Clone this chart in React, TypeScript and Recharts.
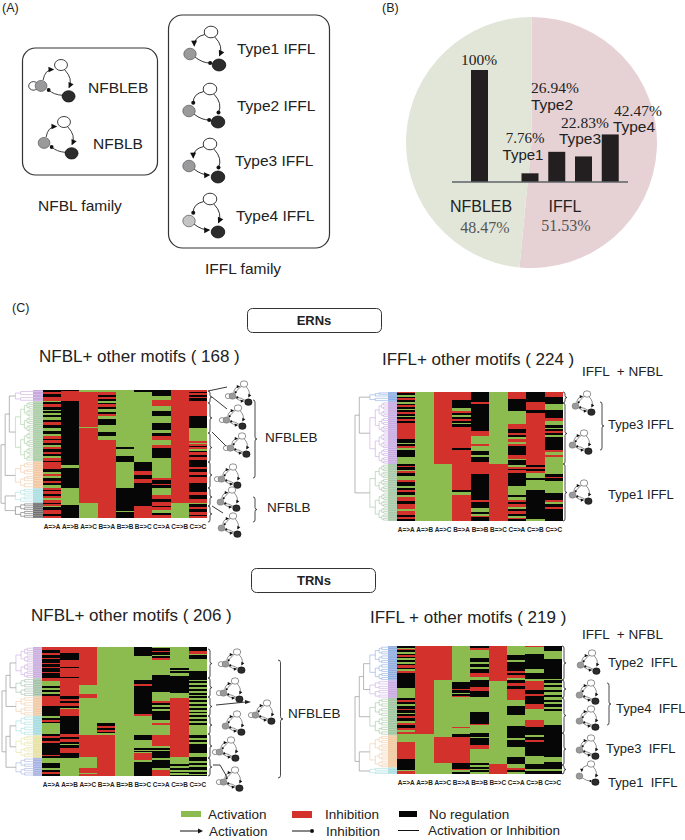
import { Bar, BarChart, Cell, Pie, PieChart, XAxis, YAxis } from "recharts";

// panel B
const pieNames = ["IFFL", "NFBLEB"];
const pieValues = [51.53, 48.47];
const pieColors = ["#e6d2d4", "#e2e6d9"];
const nfblNames = ["NFBLEB"];
const nfblValues = [100];
const ifflNames = ["Type1", "Type2", "Type3", "Type4"];
const ifflValues = [7.76, 26.94, 22.83, 42.47];

// panel C, run lists: state letter + the row where that run ends
const regulations = ["A=>A", "A=>B", "A=>C", "B=>A", "B=>B", "B=>C", "C=>A", "C=>B", "C=>C"];
const stateColors: Record<string, string> = { G: "#8cbc4f", R: "#d3322c", K: "#060606" };

const ernNfbl = [
  "K3 R5 K9 R14 G16 K19 R22 K26 G28 K30 G33 K36 G39 K42 R46 K50 G54 K58 G61 R64 K66 R70 K72 G75 R78 K82 R84 K86 G89 R93 K95 R104 K108 G110 R113 G116 K119 R122 K125 G128 R131 K133 R137 K139 R142 G145 R148 K150 R152 G154 K158 R163 K165 R168",
  "K1 R15 K98 G103 K129 G151 K168",
  "G2 R48 G50 R148 G168",
  "G2 R7 K9 R12 K14 G17 K19 R22 K25 G29 K31 R34 G38 K46 G55 K61 G66 R168",
  "G75 K78 G86 K94 G129 K159 G160 K168",
  "K3 G95 K106 R111 K117 R122 K129 K152 R168",
  "K8 G13 R21 G27 K34 G43 K52 G57 K61 R66 G72 R76 K89 G115 R118 K123 R125 K129 G138 R143 K147 R152 K154 R158 G161 K164 R168",
  "R148 G168",
  "R2 K4 R7 K9 R11 K14 R34 K50 G67 R69 G71 R73 K75 R77 G80 K82 R85 K88 R92 K101 R104 K108 R112 K114 R122 K134 R138 K143 R148 G150 K153 R156 K160 R164 K166 R168",
];
const ernIffl = [
  "R2 K5 G8 K11 R14 K17 G20 K23 R26 K29 G32 K35 R38 K41 G44 K47 R50 K53 R81 K88 G91 K94 R98 G101 K113 G125 K128 R131 K135 G138 R141 K145 G152 R156 K163 G167 K170 R174 K178 G182 R190 K195 R204 G207 R213 K217 R221 K224",
  "G224",
  "R125 G224",
  "R14 K27 G33 R36 K40 G43 K47 R50 K53 G56 K60 R98 K101 R170 K174 G178 R186 R224",
  "K18 R21 K68 R77 G90 R94 G102 K110 G112 K121 R143 K188 R191 K201 G208 K212 G215 R217 K224",
  "G125 R224",
  "R13 K33 G56 R64 K71 R75 K78 G82 R87 G91 R94 K109 R116 G118 K127 G130 R133 K136 R140 K164 G178 K183 G187 R191 K195 R199 G203 K207 R211 K216 G219 R221 K224",
  "K17 R32 K36 R127 K131 R133 K138 R140 G149 K152 G170 K220 G224",
  "R9 K21 G31 K45 R50 G58 K62 G65 K68 R71 K75 G79 K87 K101 R105 G110 R113 G125 G143 K147 R150 K154 G158 G175 K187 R191 G195 K199 R203 K224",
];
const trnNfbl = [
  "R4 K10 R12 K17 R19 K25 R27 K32 R34 K40 R42 K50 R55 G63 K66 G69 K72 G75 K79 R95 K110 G113 K116 R119 K122 G125 G139 K142 R146 K150 R154 K162 K172 R174 K178 G186 K194 G197 K200 R203 K206",
  "R10 K20 R32 K34 R48 K50 R78 K83 R87 K90 R94 K97 G99 R110 K139 R143 K147 R151 K155 G157 K162 R170 K178 G186 G206",
  "R60 G75 R81 G141 R176 G193 R201 G203 R206",
  "G121 K126 R129 K132 R135 K138 G140 R206",
  "G206",
  "K15 G53 K59 R62 K107 R110 G141 K149 G162 K164 G166 K168 G170 R181 G183 K206",
  "G2 K6 R8 K12 G14 K18 R20 G44 K72 G87 R90 K93 G96 K99 G102 K117 G122 R125 G141 R158 G161 K164 G166 K178 G180 K193 G196 R206",
  "G34 K36 G38 K42 G46 K74 G81 R176 G187 K190 G193 K196 G199 K202 G204 K206",
  "K7 R11 G12 K19 G38 K52 G55 K58 G61 K64 G67 K70 G73 K76 G79 K82 G85 K88 G91 K94 G97 K100 G103 K106 G109 K112 G115 K118 G121 K124 G127 G141 K145 G148 K152 G155 K159 K170 G175 K182 G185 K189 G192 K197 G200 K203 G204 K206",
];
const trnIffl = [
  "K3 G5 R7 K10 G13 K16 R18 K21 G24 K28 G30 K33 R37 K39 G42 R46 K72 G89 K93 R96 K100 G103 K107 R110 K114 G117 K120 R124 K128 G132 R136 K140 R143 G147 R151 G165 R193 K212 G214 R219",
  "R151 G219",
  "R59 G155 R201 G219",
  "G61 K73 R76 K80 G82 K86 R87 G138 R141 G150 K155 R201 K210 R212 G215 K219",
  "K4 R6 G21 K27 G30 K36 G40 K47 R53 G58 K71 R77 K88 G113 K133 R136 G149 K155 G158 K170 R176 G201 K204 G207 K210 G213 K216 G219",
  "R60 G202 R219",
  "G16 K24 G28 K43 R46 K50 R54 G58 K63 R68 K74 R85 R93 G103 K118 G137 K158 G161 K172 G190 K202 G208 R213 K216 G219",
  "R2 G13 K39 G47 K56 G60 R76 K82 R86 K100 R108 G127 R138 K153 G155 K160 R165 K188 G202 K211 G214 K219",
  "K9 G23 K56 G59 K63 G67 K71 G75 K79 G84 K88 G92 K96 G100 K104 G108 K112 G136 K190 G199 K211 G214 K219",
];

const ernNfblClusters = [["#c9a9de", 15], ["#a7cba3", 94], ["#f2c7a1", 129], ["#a8dde0", 148], ["#6d6d6d", 168]] as const;
const ernIfflClusters = [["#8bace2", 17], ["#c6a8e0", 125], ["#a2c4a2", 224]] as const;
const trnNfblClusters = [["#c9aade", 50], ["#a3c0a8", 79], ["#f0c9a4", 110], ["#a5dde0", 141], ["#e6e0a0", 177], ["#a5b1e3", 206]] as const;
const trnIfflClusters = [["#8facdf", 59], ["#c9a9e2", 89], ["#9fc49e", 153], ["#f0c79d", 208], ["#a5dde0", 219]] as const;

function Heatmap({ left, top, width, height, rows, columns }: any) {
  const runs = columns.map((c: string) => {
    let prev = 0;
    return c.split(" ").map((t) => {
      const end = Number(t.slice(1));
      const run = { state: t[0], len: end - prev };
      prev = end;
      return run;
    });
  });
  const maxRuns = Math.max(...runs.map((r: any[]) => r.length));
  const data = regulations.map((name, i) => {
    const row: any = { name };
    for (let j = 0; j < maxRuns; j++) row[`s${j}`] = runs[i][j] ? runs[i][j].len : 0;
    return row;
  });
  // recharts floors the automatic bar width, which leaves white seams between columns
  const colWidth = width / regulations.length - 0.001;
  return (
    <div style={{ position: "absolute", left, top }}>
      <BarChart width={width} height={height + 13} data={data} margin={{ top: 0, right: 0, bottom: 0, left: 0 }} barCategoryGap="0%" barGap={0}>
        <XAxis
          dataKey="name"
          interval={0}
          height={13}
          axisLine={false}
          tickLine={false}
          tickMargin={0}
          tick={{ fontSize: 6.4, fontWeight: 700, fill: "#222", fontFamily: "Liberation Sans" }}
        />
        <YAxis hide reversed type="number" domain={[0, rows]} />
        {Array.from({ length: maxRuns }, (_, j) => (
          <Bar key={j} dataKey={`s${j}`} stackId="h" barSize={colWidth} isAnimationActive={false} shapeRendering="crispEdges">
            {runs.map((r: any[], i: number) => (
              <Cell key={i} fill={r[j] ? stateColors[r[j].state] : "none"} />
            ))}
          </Bar>
        ))}
      </BarChart>
    </div>
  );
}

// tree drawn beside a heatmap, joined into the coloured strip
function Dendrogram({ x0, x1, strip, top, height, rows, clusters }: any) {
  const sy = height / rows;
  const lines: any[] = [];
  const span = strip - x0;
  const inner = (lo: number, hi: number, x: number, color: string): number => {
    if (hi - lo < 5) {
      const y = ((lo + hi) / 2) * sy + top;
      lines.push(<path key={lines.length} d={`M${x} ${y}H${strip}`} stroke={color} fill="none" strokeWidth={0.6} />);
      lines.push(<path key={lines.length} d={`M${strip} ${y}H${x1}`} stroke="#fff" strokeOpacity={0.45} fill="none" strokeWidth={0.6} />);
      return y;
    }
    const mid = Math.round((lo + hi) / 2);
    const step = (strip - x) * 0.3;
    const a = inner(lo, mid, x + step, color);
    const b = inner(mid, hi, x + step, color);
    lines.push(<path key={lines.length} d={`M${x + step} ${a}H${x}V${b}H${x + step}`} stroke={color} fill="none" strokeWidth={0.6} />);
    return (a + b) / 2;
  };
  const outer = (from: number, to: number, depth: number): [number, number] => {
    if (to - from === 1) {
      const lo = from === 0 ? 0 : clusters[from - 1][1];
      const x = x0 + span * 0.45;
      return [inner(lo, clusters[from][1], x, clusters[from][0]), x];
    }
    const mid = Math.ceil((from + to) / 2);
    const [a, ax] = outer(from, mid, depth + 1);
    const [b, bx] = outer(mid, to, depth + 1);
    const x = x0 + span * 0.13 * depth;
    lines.push(<path key={lines.length} d={`M${ax} ${a}H${x}V${b}H${bx}`} stroke="#9a9a9a" fill="none" strokeWidth={0.7} />);
    return [(a + b) / 2, x];
  };
  outer(0, clusters.length, 0);
  return (
    <g>
      {clusters.map((c: any, i: number) => {
        const lo = i === 0 ? 0 : clusters[i - 1][1];
        return <rect key={i} x={strip} y={top + lo * sy} width={x1 - strip} height={(c[1] - lo) * sy} fill={c[0]} />;
      })}
      {lines}
    </g>
  );
}

const nodes: Record<string, [number, number]> = { A: [0, 0], B: [-21, 22], C: [8, 33] };

function Edge({ from, to, kind, bend }: any) {
  const [x1, y1] = nodes[from];
  const [x2, y2] = nodes[to];
  const dx = x2 - x1;
  const dy = y2 - y1;
  const len = Math.hypot(dx, dy);
  const ux = dx / len;
  const uy = dy / len;
  const cx = (x1 + x2) / 2 - uy * bend;
  const cy = (y1 + y2) / 2 + ux * bend;
  // end points stop short of the node rims
  const sx = x1 + ux * 6 - uy * bend * 0.3;
  const sy = y1 + uy * 6 + ux * bend * 0.3;
  const ex = x2 - ux * 9 - uy * bend * 0.3;
  const ey = y2 - uy * 9 + ux * bend * 0.3;
  const angle = (Math.atan2(ey - cy, ex - cx) * 180) / Math.PI;
  return (
    <g>
      <path d={`M${sx} ${sy}Q${cx} ${cy} ${ex} ${ey}`} fill="none" stroke="#1c1c1c" strokeWidth={0.9} />
      {kind === "a" ? (
        <path d="M-5 -3L1 0L-5 3Z" transform={`translate(${ex} ${ey}) rotate(${angle})`} fill="#111" />
      ) : (
        <circle cx={ex} cy={ey} r={2} fill="#111" />
      )}
    </g>
  );
}

const motifEdges: Record<string, any[]> = {
  type1: [["A", "B", "a", 9], ["A", "C", "a", -9], ["B", "C", "i", 4]],
  type2: [["A", "B", "i", 9], ["A", "C", "i", -9], ["B", "C", "i", 4]],
  type3: [["A", "B", "a", 9], ["A", "C", "i", -9], ["B", "C", "a", 4]],
  type4: [["A", "B", "i", 9], ["A", "C", "a", -9], ["B", "C", "a", 4]],
  nfbl: [["B", "A", "a", -9], ["A", "C", "a", -9], ["C", "B", "i", -4]],
  dense: [["B", "A", "a", -9], ["A", "C", "a", -9], ["B", "C", "a", 4], ["C", "B", "i", 3], ["A", "B", "i", 2]],
};

function Motif({ x, y, s = 1, type, grey = "#9a9a9c", loop = false }: any) {
  return (
    <g transform={`translate(${x} ${y}) scale(${s})`}>
      {motifEdges[type].map((e, i) => (
        <Edge key={i} from={e[0]} to={e[1]} kind={e[2]} bend={e[3]} />
      ))}
      {loop && <ellipse cx={-29} cy={22} rx={5} ry={4.5} fill="#fff" stroke="#222" strokeWidth={0.9} />}
      <ellipse cx={0} cy={0} rx={6.8} ry={5.8} fill="#fff" stroke="#222" strokeWidth={0.9} />
      <ellipse cx={-21} cy={22} rx={6.2} ry={5.8} fill={grey} stroke="#555" strokeWidth={0.7} />
      <ellipse cx={8} cy={33} rx={6.8} ry={6} fill="#2c2c2c" stroke="#000" strokeWidth={0.7} />
    </g>
  );
}

function Brace({ x, y1, y2, w = 4, color = "#333" }: any) {
  const mid = (y1 + y2) / 2;
  const h = w / 2;
  return (
    <path
      d={`M${x} ${y1}Q${x + h} ${y1} ${x + h} ${y1 + h}V${mid - h}Q${x + h} ${mid} ${x + w} ${mid}Q${x + h} ${mid} ${x + h} ${mid + h}V${y2 - h}Q${x + h} ${y2} ${x} ${y2}`}
      fill="none"
      stroke={color}
      strokeWidth={0.9}
    />
  );
}

function Label({ x, y, size = 13.5, anchor = "start", color = "#222", serif = false, weight = 400, children }: any) {
  return (
    <text
      x={x}
      y={y}
      fontSize={size}
      textAnchor={anchor}
      fill={color}
      fontWeight={weight}
      dominantBaseline="central"
      fontFamily={serif ? "Liberation Serif" : "Liberation Sans"}
      style={{ whiteSpace: "pre" }}
    >
      {children}
    </text>
  );
}

function Connector({ d }: any) {
  return <path d={d} fill="none" stroke="#222" strokeWidth={0.9} />;
}

export default function App() {
  const pieData = pieNames.map((name, i) => ({ name, value: pieValues[i] }));
  const nfblData = nfblNames.map((name, i) => ({ name, value: nfblValues[i] }));
  const ifflData = ifflNames.map((name, i) => ({ name, value: ifflValues[i] }));
  const barAxis = { stroke: "#5c6266", strokeWidth: 1.5 };
  return (
    <div style={{ position: "absolute", left: 0, top: 0, width: 685, height: 840, background: "#fff", overflow: "hidden" }}>
      <div style={{ position: "absolute", left: 401, top: 12 }}>
        <PieChart width={261} height={261} margin={{ top: 0, right: 0, bottom: 0, left: 0 }}>
          <Pie data={pieData} dataKey="value" nameKey="name" cx="50%" cy="50%" outerRadius={125.5} startAngle={90} endAngle={-270} stroke="none" isAnimationActive={false}>
            {pieData.map((d, i) => (
              <Cell key={d.name} fill={pieColors[i]} />
            ))}
          </Pie>
        </PieChart>
      </div>
      <div style={{ position: "absolute", left: 452, top: 70 }}>
        <BarChart width={55} height={114} data={nfblData} margin={{ top: 0, right: 0, bottom: 0, left: 0 }}>
          <XAxis dataKey="name" height={2} tick={false} tickLine={false} axisLine={barAxis} />
          <YAxis hide domain={[0, 100]} />
          <Bar dataKey="value" barSize={17} fill="#231f20" isAnimationActive={false} />
        </BarChart>
      </div>
      <div style={{ position: "absolute", left: 507, top: 70 }}>
        <BarChart width={121} height={114} data={ifflData} margin={{ top: 0, right: 0, bottom: 0, left: 0 }}>
          <XAxis dataKey="name" height={2} tick={false} tickLine={false} axisLine={barAxis} padding={{ left: 9.5, right: 4.5 }} />
          <YAxis hide domain={[0, 100]} />
          <Bar dataKey="value" barSize={17} fill="#231f20" isAnimationActive={false} />
        </BarChart>
      </div>

      <Heatmap left={43} top={390} width={164} height={128} rows={168} columns={ernNfbl} />
      <Heatmap left={397} top={392} width={166} height={129} rows={224} columns={ernIffl} />
      <Heatmap left={42} top={647} width={165} height={129} rows={206} columns={trnNfbl} />
      <Heatmap left={397} top={646} width={165} height={128} rows={219} columns={trnIffl} />

      <svg width={685} height={840} style={{ position: "absolute", left: 0, top: 0, pointerEvents: "none" }}>
        <Label x={2} y={8} size={12.5}>(A)</Label>
        <Label x={382} y={8} size={12.5}>(B)</Label>
        <Label x={12} y={308} size={12.5}>(C)</Label>

        <rect x={22.5} y={48} width={135} height={127} rx={13} fill="none" stroke="#333" strokeWidth={1.2} />
        <rect x={168.5} y={15} width={161} height={233} rx={14} fill="none" stroke="#333" strokeWidth={1.2} />
        <Motif x={61} y={65} s={0.95} type="nfbl" loop />
        <Motif x={64} y={122} s={0.95} type="nfbl" />
        <Motif x={211} y={32} type="type1" />
        <Motif x={210} y={89} type="type2" />
        <Motif x={210} y={144} type="type3" />
        <Motif x={210} y={199} type="type4" grey="#c4c4c4" />
        <Label x={88} y={87} size={15.5}>NFBLEB</Label>
        <Label x={93} y={143} size={15.5}>NFBLB</Label>
        <Label x={38} y={205} size={15.5}>NFBL family</Label>
        <Label x={205} y={268} size={15.5}>IFFL family</Label>
        <Label x={237} y={48} size={15.5}>Type1 IFFL</Label>
        <Label x={237} y={105} size={15.5}>Type2 IFFL</Label>
        <Label x={235} y={160} size={15.5}>Type3 IFFL</Label>
        <Label x={236} y={215} size={15.5}>Type4 IFFL</Label>

        <Label x={479} y={59} size={15.5} anchor="middle" serif>100%</Label>
        <Label x={555} y={87} size={15.5} anchor="middle" serif>26.94%</Label>
        <Label x={552} y={104} size={15.5} anchor="middle">Type2</Label>
        <Label x={585} y={122} size={15.5} anchor="middle" serif>22.83%</Label>
        <Label x={580} y={138} size={15.5} anchor="middle">Type3</Label>
        <Label x={525} y={138} size={15} anchor="middle" serif>7.76%</Label>
        <Label x={523} y={154} size={15} anchor="middle">Type1</Label>
        <Label x={638} y={110} size={15.5} anchor="middle" serif>42.47%</Label>
        <Label x={634} y={126} size={15.5} anchor="middle">Type4</Label>
        <Label x={481} y={206} size={16} anchor="middle">NFBLEB</Label>
        <Label x={485} y={227} size={16} anchor="middle" serif color="#555">48.47%</Label>
        <Label x={565} y={206} size={16} anchor="middle">IFFL</Label>
        <Label x={566} y={225} size={16} anchor="middle" serif color="#555">51.53%</Label>

        <rect x={247.5} y={308.5} width={134} height={24} rx={5} fill="#fff" stroke="#333" strokeWidth={1} />
        <Label x={314} y={320.5} size={13} anchor="middle" weight={700}>ERNs</Label>
        <rect x={251.5} y={568.5} width={124} height={24} rx={5} fill="#fff" stroke="#333" strokeWidth={1} />
        <Label x={314} y={580.5} size={13} anchor="middle" weight={700}>TRNs</Label>

        <Label x={39} y={356} size={17}>NFBL+ other motifs ( 168 )</Label>
        <Label x={382} y={359} size={17}>IFFL+ other motifs ( 224 )</Label>
        <Label x={31} y={615} size={17}>NFBL+ other motifs ( 206 )</Label>
        <Label x={370} y={617} size={17}>IFFL + other motifs ( 219 )</Label>
        <Label x={582} y={371} size={13.5}>IFFL  + NFBL</Label>
        <Label x={582} y={634} size={13.5}>IFFL  + NFBL</Label>

        <Dendrogram x0={1} x1={43} strip={33} top={390} height={128} rows={168} clusters={ernNfblClusters} />
        <Dendrogram x0={355} x1={397} strip={388} top={392} height={129} rows={224} clusters={ernIfflClusters} />
        <Dendrogram x0={2} x1={42} strip={33} top={647} height={129} rows={206} clusters={trnNfblClusters} />
        <Dendrogram x0={355} x1={397} strip={388} top={646} height={128} rows={219} clusters={trnIfflClusters} />

        {/* ERN NFBL side notes */}
        <Brace x={208} y1={391} y2={403} />
        <Brace x={208} y1={403} y2={433} />
        <Brace x={208} y1={433} y2={462} />
        <Brace x={208} y1={462} y2={488} />
        <Brace x={208} y1={488} y2={506} />
        <Brace x={208} y1={506} y2={522} />
        <Connector d="M208 391L227 387" />
        <Connector d="M212 397L227 409" />
        <Connector d="M212 432L227 447" />
        <Connector d="M212 506L223 513" />
        <Motif x={244} y={384} s={0.55} type="dense" loop />
        <Motif x={238} y={408} s={0.55} type="dense" loop />
        <Motif x={242} y={436} s={0.55} type="dense" loop />
        <Motif x={233} y={467} s={0.55} type="dense" loop />
        <Motif x={232} y={490} s={0.55} type="dense" />
        <Motif x={233} y={516} s={0.55} type="dense" />
        <Brace x={253} y1={400} y2={478} />
        <Brace x={253} y1={497} y2={522} />
        <Label x={265} y={437} size={13.5}>NFBLEB</Label>
        <Label x={267} y={507} size={13.5}>NFBLB</Label>

        {/* ERN IFFL side notes */}
        <Brace x={563} y1={392} y2={403} />
        <Brace x={563} y1={403} y2={464} />
        <Brace x={563} y1={464} y2={521} />
        <Motif x={587} y={394} s={0.55} type="dense" />
        <Motif x={584} y={433} s={0.55} type="dense" />
        <Motif x={584} y={483} s={0.55} type="dense" />
        <Brace x={600} y1={402} y2={450} />
        <Label x={608} y={424} size={13}>Type3 IFFL</Label>
        <Label x={608} y={494} size={13}>Type1 IFFL</Label>

        {/* TRN NFBL side notes */}
        <Brace x={208} y1={649} y2={678} />
        <Brace x={208} y1={678} y2={697} />
        <Brace x={208} y1={697} y2={716} />
        <Brace x={208} y1={716} y2={734} />
        <Brace x={208} y1={734} y2={758} />
        <Brace x={208} y1={758} y2={776} />
        <Connector d="M216 705L246 702" />
        <path d="M245 700L251 702L245 704Z" fill="#222" />
        <Connector d="M213 765H220L227 777" />
        <Motif x={237} y={652} s={0.55} type="dense" loop />
        <Motif x={235} y={681} s={0.55} type="dense" loop />
        <Motif x={237} y={714} s={0.55} type="dense" />
        <Motif x={231} y={740} s={0.55} type="dense" loop />
        <Motif x={235} y={770} s={0.55} type="dense" loop />
        <Motif x={267} y={703} s={0.55} type="dense" loop />
        <Brace x={278} y1={660} y2={778} w={5} />
        <Label x={288} y={713} size={13.5}>NFBLEB</Label>

        {/* TRN IFFL side notes */}
        <Brace x={562} y1={646} y2={680} />
        <Brace x={562} y1={680} y2={698} />
        <Brace x={562} y1={698} y2={733} />
        <Brace x={562} y1={733} y2={765} />
        <Brace x={562} y1={765} y2={774} />
        <Motif x={592} y={653} s={0.55} type="dense" />
        <Motif x={591} y={683} s={0.55} type="dense" />
        <Motif x={591} y={709} s={0.55} type="dense" />
        <Motif x={591} y={738} s={0.55} type="dense" />
        <Motif x={591} y={764} s={0.55} type="type1" />
        <Brace x={607} y1={683} y2={725} />
        <Label x={608} y={662} size={13}>Type2  IFFL</Label>
        <Label x={616} y={708} size={13}>Type4  IFFL</Label>
        <Label x={606} y={748} size={13}>Type3  IFFL</Label>
        <Label x={608} y={782} size={13}>Type1  IFFL</Label>

        {/* legend */}
        <rect x={181} y={811} width={20} height={6} fill="#8cbc4f" />
        <Label x={208} y={814}>Activation</Label>
        <rect x={292} y={811} width={20} height={7} fill="#d3322c" />
        <Label x={325} y={814.5}>Inhibition</Label>
        <rect x={399} y={811} width={18} height={6} fill="#060606" />
        <Label x={429} y={814.5}>No regulation</Label>
        <path d="M180 831H198" stroke="#111" strokeWidth={1} />
        <path d="M198 828.5L203 831L198 833.5Z" fill="#111" />
        <Label x={209} y={831}>Activation</Label>
        <path d="M292 831H310" stroke="#111" strokeWidth={1} />
        <circle cx={312} cy={831} r={2} fill="#111" />
        <Label x={326} y={831.5}>Inhibition</Label>
        <path d="M398 830.5H419" stroke="#111" strokeWidth={1} />
        <Label x={428} y={830.5}>Activation or Inhibition</Label>
      </svg>
    </div>
  );
}
